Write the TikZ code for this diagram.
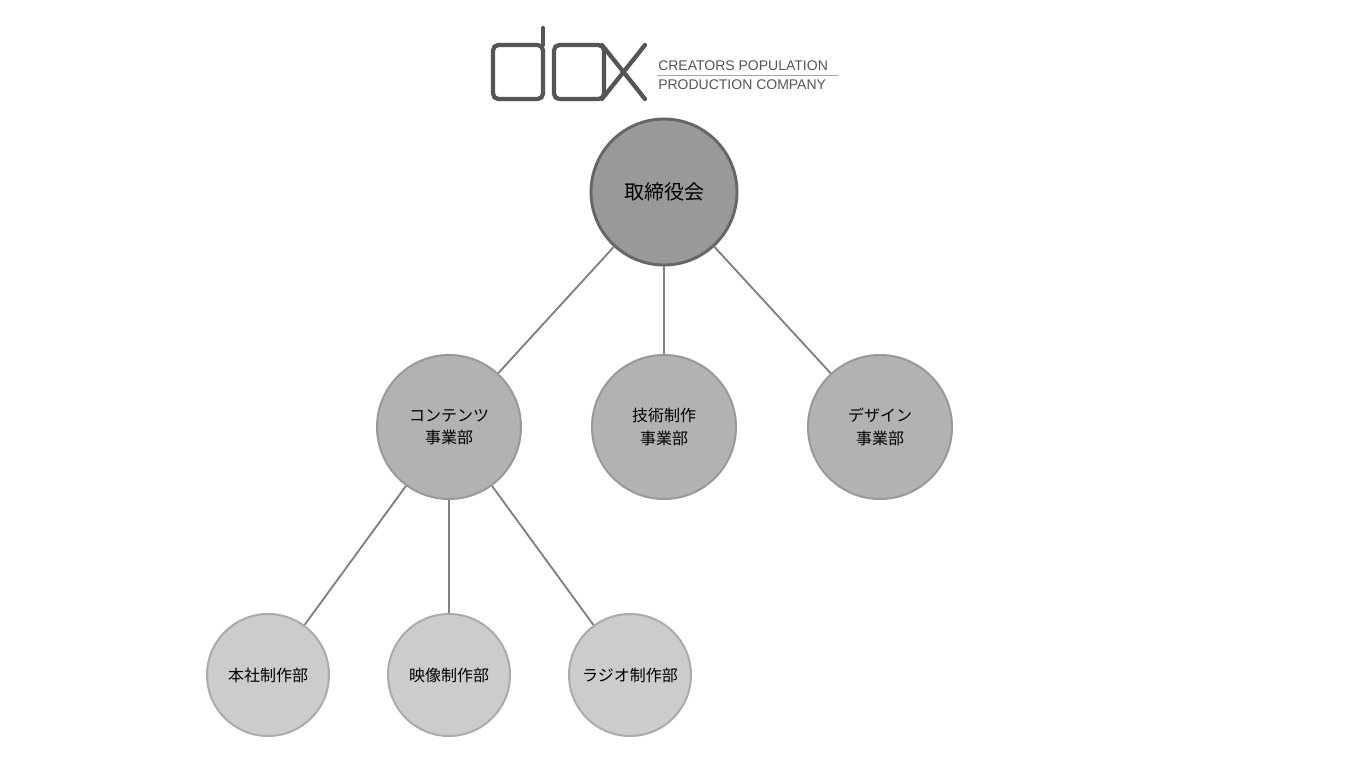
\documentclass[tikz,border=0pt]{standalone}
\usepackage{fontspec}
\setmainfont{Noto Sans CJK JP}
\newfontfamily\logofont{Liberation Sans}
\definecolor{logogray}{HTML}{555555}
\tikzset{
  board/.style={circle, draw=black!60, line width=2.2pt, fill=black!40, minimum size=146*0.75pt, inner sep=0pt, font=\fontsize{15}{18}\selectfont},
  division/.style={circle, draw=black!40, line width=1.5pt, fill=black!30, minimum size=144*0.75pt, inner sep=0pt, align=center, font=\fontsize{12}{17}\selectfont},
  section/.style={circle, draw=black!33, line width=1.5pt, fill=black!20, minimum size=122*0.75pt, inner sep=0pt, font=\fontsize{12}{15}\selectfont},
  link/.style={draw=black!50, line width=1.4pt}
}
\begin{document}
\begin{tikzpicture}[x=0.75pt, y=-0.75pt]
	\useasboundingbox (0,0) rectangle (1366,768);
	%logo
	\begin{scope}[draw=logogray, line width=3.2pt, line cap=round]
	\draw[rounded corners=4pt] (543,45) rectangle (493,99);
	\draw (543,45) -- (543,28);
	\draw[rounded corners=4pt] (554,45) rectangle (604,99);
	\draw (602,45) -- (645,99);
	\draw (645,45) -- (602,99);
	\end{scope}
	\draw[black!35, line width=0.6pt] (657,75) -- (838,75);
	\node[anchor=west, text=logogray, font=\logofont\fontsize{10.5}{12}\selectfont, inner sep=0pt] (slogan1) at (658,66) {CREATORS POPULATION};
	\node[anchor=west, text=logogray, font=\logofont\fontsize{10.5}{12}\selectfont, inner sep=0pt] (slogan2) at (658,85) {PRODUCTION COMPANY};
	%nodes
	\node[board] (board) at (664,192) {取締役会};
	\node[division] (contents) at (449,427) {コンテンツ\\事業部};
	\node[division] (tech) at (664,427) {技術制作\\事業部};
	\node[division] (design) at (880,427) {デザイン\\事業部};
	\node[section] (honsha) at (268,675) {本社制作部};
	\node[section] (eizo) at (449,675) {映像制作部};
	\node[section] (radio) at (630,675) {ラジオ制作部};
	%links
	\foreach \a/\b in {board/contents, board/tech, board/design, contents/honsha, contents/eizo, contents/radio}
	\draw[link] (\a) -- (\b);
\end{tikzpicture}
\end{document}
